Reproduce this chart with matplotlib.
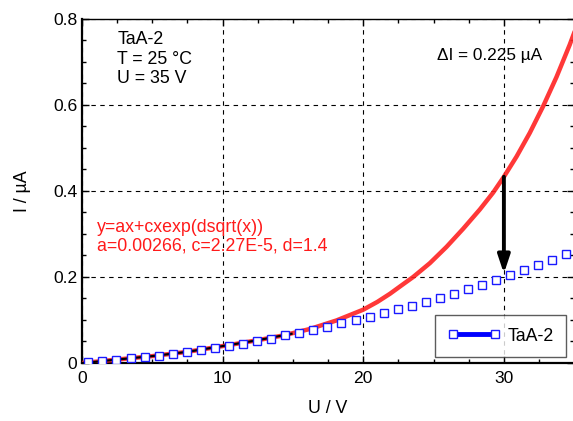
import numpy as np
import matplotlib.pyplot as plt
from matplotlib.lines import Line2D
from matplotlib.ticker import MultipleLocator, FuncFormatter

plt.rcParams['font.family'] = ['Liberation Sans', 'DejaVu Sans']
plt.rcParams['font.size'] = 12.8

# measured current, TaA-2
u_meas = [0.45, 1.45, 2.45, 3.45, 4.45, 5.45, 6.45, 7.45, 8.45, 9.45,
          10.45, 11.45, 12.45, 13.45, 14.45, 15.45, 16.45, 17.45, 18.45, 19.45,
          20.45, 21.45, 22.45, 23.45, 24.45, 25.45, 26.45, 27.45, 28.45, 29.45,
          30.45, 31.45, 32.45, 33.45, 34.45]
i_meas = [0.003, 0.0054, 0.0077, 0.011, 0.014, 0.017, 0.021, 0.026, 0.0295, 0.034,
          0.0395, 0.045, 0.051, 0.056, 0.064, 0.069, 0.0767, 0.0837, 0.0923, 0.100,
          0.1077, 0.1155, 0.1248, 0.1326, 0.1426, 0.1512, 0.1598, 0.1714, 0.1814, 0.1923,
          0.204, 0.2156, 0.2272, 0.2402, 0.2535]

# fitted curve
u_fit = [0, 1, 2.5, 5, 7.5, 10.5, 12.5, 14.3, 16.2, 18.1, 20, 21.0, 21.9, 22.7, 23.55,
         24.73, 25.92, 27.1, 28.29, 29.23, 30.0, 30.9, 31.84, 32.79, 33.74, 34.68, 35.0]
i_fit = [0, 0.003, 0.008, 0.016, 0.026, 0.042, 0.053, 0.064, 0.079, 0.099, 0.124,
         0.142, 0.161, 0.180, 0.200, 0.232, 0.270, 0.312, 0.357, 0.396, 0.433, 0.480,
         0.535, 0.597, 0.665, 0.740, 0.768]

# low-voltage fit segment
u_low = [0, 1, 2.5, 5, 7.5, 10.5, 12.5, 14.9]
i_low = [0, 0.003, 0.008, 0.016, 0.026, 0.042, 0.053, 0.068]

u_mark = 30
i_mark = 0.433
delta_i = 0.225

fig = plt.figure(figsize=(5.73, 4.21), dpi=100)
ax = fig.add_axes([0.1431, 0.1378, 0.8590, 0.8171])

ax.plot(u_fit, i_fit, color='#ff2222', lw=3.2, alpha=0.9, zorder=3)
ax.plot(u_low, i_low, color='black', lw=1.6, zorder=4)
ax.plot(u_meas, i_meas, 's', ms=5.2, mfc='white', mec='#1a1aff', mew=1.0, zorder=5)

ax.annotate('', xy=(u_mark, i_mark - delta_i), xytext=(u_mark, i_mark),
            arrowprops=dict(arrowstyle='-|>,head_length=0.6,head_width=0.2',
                            lw=2.8, color='black', mutation_scale=18,
                            shrinkA=0, shrinkB=0), zorder=6)

ax.set_xlim(0, 35)
ax.set_ylim(0, 0.8)
ax.xaxis.set_major_locator(MultipleLocator(10))
ax.xaxis.set_minor_locator(MultipleLocator(2.5))
ax.yaxis.set_major_locator(MultipleLocator(0.2))
ax.yaxis.set_minor_locator(MultipleLocator(0.05))
ax.yaxis.set_major_formatter(FuncFormatter(lambda v, p: '0' if v == 0 else f'{v:.1f}'))
ax.tick_params(which='both', direction='in', top=True, right=True, labelsize=12.6)
ax.tick_params(which='major', length=5, width=1)
ax.tick_params(which='minor', length=3, width=1)
ax.tick_params(axis='x', pad=6)
ax.grid(True, which='major', color='black', ls=(0, (4, 4)), lw=0.8)

for side in ['left', 'bottom']:
    ax.spines[side].set_linewidth(1.6)
ax.spines['top'].set_linewidth(1.0)
ax.spines['right'].set_visible(False)

ax.set_xlabel('U / V', labelpad=10)
ax.set_ylabel('I / \u00b5A', labelpad=16)

ax.text(0.072, 0.965, 'TaA-2\nT = 25 \u00b0C\nU = 35 V', transform=ax.transAxes,
        va='top', ha='left', linespacing=1.2)
ax.text(0.721, 0.895, '\u0394I = 0.225 \u00b5A', transform=ax.transAxes,
        va='center', ha='left', fontsize=12.4)
ax.text(0.030, 0.367, 'y=ax+cxexp(dsqrt(x))\na=0.00266, c=2.27E-5, d=1.4',
        transform=ax.transAxes, va='center', ha='left', color='#ff1a1a',
        linespacing=1.13)

handle = Line2D([], [], color='#0000ff', lw=3.5, marker='s', ms=5.2,
                mfc='white', mec='#1a1aff', mew=1.0)
leg = ax.legend([handle], ['TaA-2'], loc='lower right', bbox_to_anchor=(0.984, 0.017),
                borderaxespad=0, fancybox=False, numpoints=2, handlelength=2.96,
                handletextpad=0.43, borderpad=0.7, fontsize=12.8)
leg.get_frame().set_edgecolor('#333333')
leg.get_frame().set_linewidth(1.0)
leg.set_zorder(7)

fig.savefig('out.png', dpi=100)
